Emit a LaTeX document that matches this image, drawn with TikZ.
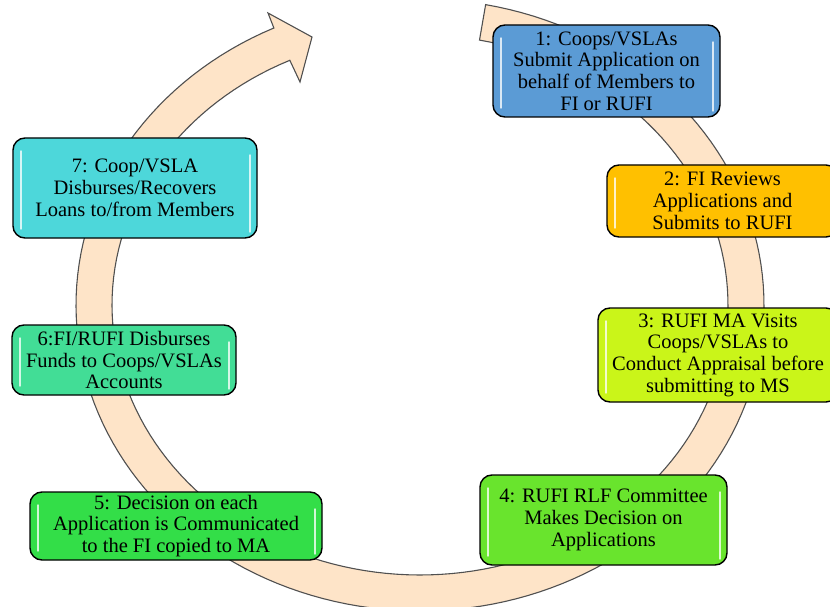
\documentclass[tikz,border=0pt]{standalone}
\usepackage{fontspec}
\setmainfont{Liberation Serif}
\definecolor{ringfill}{RGB}{254,228,200}
\definecolor{ringline}{RGB}{80,80,80}
\definecolor{cblue}{RGB}{91,155,213}
\definecolor{camber}{RGB}{255,192,0}
\definecolor{clime}{RGB}{202,245,25}
\definecolor{cgreen}{RGB}{105,228,45}
\definecolor{cgreenb}{RGB}{51,222,72}
\definecolor{cmint}{RGB}{66,221,150}
\definecolor{ccyan}{RGB}{77,215,218}
\begin{document}
\begin{tikzpicture}[x=1pt,y=-1pt,
  stagebox/.style={draw=black, line width=1.4pt, rounded corners=12pt, inner sep=0pt,
    align=center, font=\fontsize{20.5}{21.7}\selectfont,
    execute at begin node={\rule{0pt}{19.5pt}}},
  gloss/.style={white, line width=2.3pt, line cap=round, opacity=0.78},
  ring/.style={fill=ringfill, draw=ringline, line width=1.1pt, line join=miter}]
\path[use as bounding box] (0,0) rectangle (830,607);
\clip (0,0) rectangle (830,607);

% circular block arrow running clockwise round the stages
\path[ring]
  plot[domain=0:1, samples=160, variable=\s]
    ({420+344*cos(79-324*\s)}, {305-306*sin(79-324*\s)})
  -- (268,13) -- (312,37) -- (300,82)
  -- plot[domain=0:1, samples=160, variable=\s]
    ({420+308*cos(-245+324*\s)}, {305-270*sin(-245+324*\s)})
  -- cycle;

% stages
\node[stagebox, fill=cblue, minimum width=227pt, minimum height=92pt] (s1) at (606.5,71)
  {1: Coops/VSLAs\\Submit Application on\\behalf of Members to\\FI or RUFI};
\node[stagebox, fill=camber, minimum width=231pt, minimum height=72pt] (s2) at (722.5,201)
  {2: FI Reviews\\Applications and\\Submits to RUFI};
\node[stagebox, fill=clime, minimum width=240pt, minimum height=94pt] (s3) at (718,355)
  {3: RUFI MA Visits\\Coops/VSLAs to\\Conduct Appraisal before\\submitting to MS};
\node[stagebox, fill=cgreen, minimum width=247pt, minimum height=90pt] (s4) at (603.5,520)
  {4: RUFI RLF Committee\\Makes Decision on\\Applications};
\node[stagebox, fill=cgreenb, minimum width=292pt, minimum height=68pt] (s5) at (176,526)
  {5: Decision on each\\Application is Communicated\\to the FI copied to MA};
\node[stagebox, fill=cmint, minimum width=224pt, minimum height=70pt] (s6) at (124,360)
  {6:FI/RUFI Disburses\\Funds to Coops/VSLAs\\Accounts};
\node[stagebox, fill=ccyan, minimum width=244pt, minimum height=100pt] (s7) at (135,188)
  {7: Coop/VSLA\\Disburses/Recovers\\Loans to/from Members};

% glossy highlights along the inner sides of each box
\foreach \n in {s1,s2,s3,s4,s5,s6,s7} {
  \draw[gloss] ([xshift=9pt,yshift=-14pt]\n.north west) -- ([xshift=9pt,yshift=10pt]\n.south west);
  \draw[gloss] ([xshift=-8pt,yshift=-18pt]\n.north east) -- ([xshift=-8pt,yshift=7pt]\n.south east);
}
\end{tikzpicture}
\end{document}
